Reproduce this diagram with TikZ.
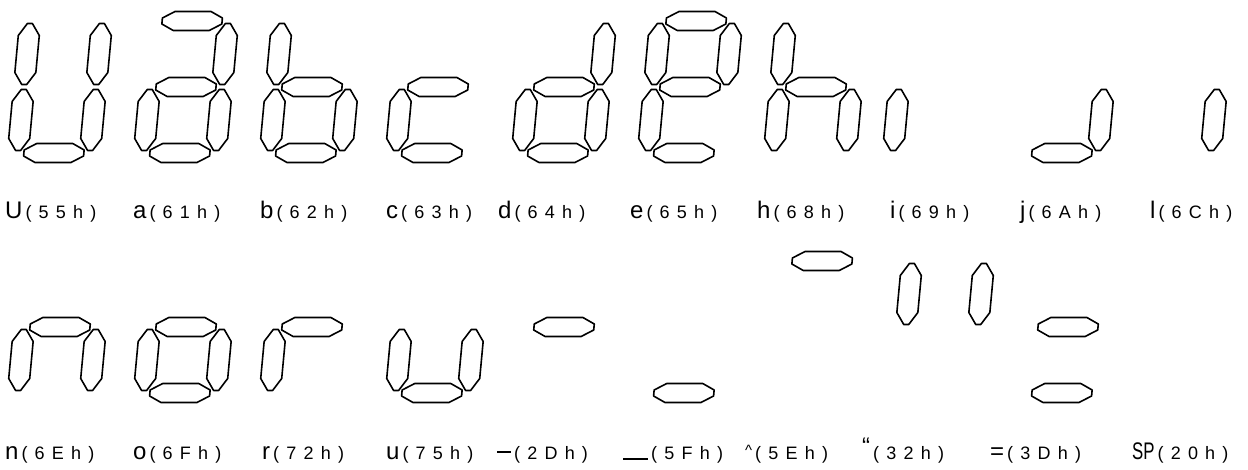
\documentclass[tikz,border=0pt]{standalone}
\usepackage{fontspec}
\setmainfont{Liberation Sans}
\usepackage{graphicx}

% one bar of the display, centred at (#1,#2)
\newcommand{\hseg}[2]{\draw[segment,shift={(#1,#2)}] (-30,-3) -- (-18,-9.5) -- (18,-9.5) -- (30,-3) -- (30,3) -- (18,9.5) -- (-18,9.5) -- (-30,3) -- cycle;}
\newcommand{\vseg}[2]{\draw[segment,shift={(#1,#2)}] (-2.5,-30.5) -- (2.5,-30.5) -- (10.5,-18.5) -- (10.5,18.5) -- (2.5,30.5) -- (-2.5,30.5) -- (-10.5,18.5) -- (-10.5,-18.5) -- cycle;}
\newcommand{\sega}{\hseg{0}{-66}}
\newcommand{\segb}{\vseg{36}{-33}}
\newcommand{\segc}{\vseg{36}{33}}
\newcommand{\segd}{\hseg{0}{66}}
\newcommand{\sege}{\vseg{-36}{33}}
\newcommand{\segf}{\vseg{-36}{-33}}
\newcommand{\segg}{\hseg{0}{0}}
\newcommand{\sevenseg}[3]{%
  \begin{scope}[shift={(#1,#2)},xslant=0.093]
    \foreach \s in {#3} {\csname seg\s\endcsname}
  \end{scope}}
\newcommand{\hexcode}[1]{{\fontsize{18}{18}\selectfont\addfontfeature{LetterSpace=40}\,(#1)}}

\begin{document}
\begin{tikzpicture}[
  x=1pt,y=-1pt,
  segment/.style={draw,line width=1.6pt,line join=round},
  lbl/.style={anchor=base west,inner sep=0pt,font=\fontsize{24}{24}\selectfont}]

  \useasboundingbox[fill=white] (0,0) rectangle (1248,470);

  % Upper row of characters
  \sevenseg{60}{87}{b,c,d,e,f}
  \sevenseg{186}{87}{a,b,c,d,e,g}
  \sevenseg{312}{87}{f,g,e,c,d}
  \sevenseg{438}{87}{g,e,d}
  \sevenseg{564}{87}{b,g,e,c,d}
  \sevenseg{690}{87}{a,b,f,g,e,d}
  \sevenseg{816}{87}{f,g,e,c}
  \sevenseg{935}{87}{e}
  \sevenseg{1068}{87}{c,d}
  \sevenseg{1181}{87}{c}

  \node[lbl] (lU) at (5,219) {U\hexcode{55h}};
  \node[lbl] (la) at (133,219) {a\hexcode{61h}};
  \node[lbl] (lb) at (260,219) {b\hexcode{62h}};
  \node[lbl] (lc) at (386,219) {c\hexcode{63h}};
  \node[lbl] (ld) at (498,219) {d\hexcode{64h}};
  \node[lbl] (le) at (630,219) {e\hexcode{65h}};
  \node[lbl] (lh) at (757,219) {h\hexcode{68h}};
  \node[lbl] (li) at (890,219) {i\hexcode{69h}};
  \node[lbl] (lj) at (1020,219) {j\hexcode{6Ah}};
  \node[lbl] (ll) at (1150,219) {l\hexcode{6Ch}};

  % Lower row of characters
  \sevenseg{60}{327}{g,e,c}
  \sevenseg{186}{327}{g,e,c,d}
  \sevenseg{312}{327}{g,e}
  \sevenseg{438}{327}{e,c,d}
  \sevenseg{564}{327}{g}
  \sevenseg{690}{327}{d}
  \sevenseg{816}{327}{a}
  \sevenseg{942}{327}{f,b}
  \sevenseg{1068}{327}{g,d}

  \node[lbl] (ln) at (5,459) {n\hexcode{6Eh}};
  \node[lbl] (lo) at (133,459) {o\hexcode{6Fh}};
  \node[lbl] (lr) at (262,459) {r\hexcode{72h}};
  \node[lbl] (lu) at (386,459) {u\hexcode{75h}};
  \node[lbl] (lminus) at (497,459) {\rule[6pt]{14pt}{2pt}\hexcode{2Dh}};
  \node[lbl] (lunder) at (623,459) {\rule[-1pt]{25pt}{1.6pt}\hexcode{5Fh}};
  \node[lbl] (lhat) at (745,459) {\raisebox{4pt}{\fontsize{15}{15}\selectfont\textasciicircum}\hexcode{5Eh}};
  \node[lbl] (lquote) at (862,459) {\raisebox{5pt}{“}\hexcode{32h}};
  \node[lbl] (lequal) at (990,459) {=\hexcode{3Dh}};
  \node[lbl] (lspace) at (1132,459) {\scalebox{0.7}[1]{SP}\hexcode{20h}};
\end{tikzpicture}
\end{document}
